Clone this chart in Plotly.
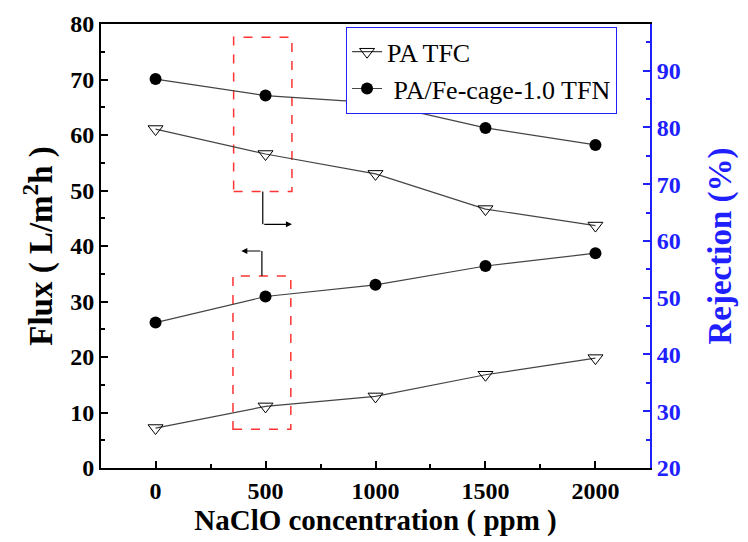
import plotly.graph_objects as go

conc = [0, 500, 1000, 1500, 2000]
flux_tfc = [7.2, 11.1, 12.9, 16.8, 19.8]
flux_tfn = [26.2, 30.9, 33.0, 36.4, 38.7]
rej_tfc = [79.7, 75.3, 71.8, 65.6, 62.7]
rej_tfn = [88.5, 85.6, 84.3, 79.9, 76.9]

x_ticks = [0, 500, 1000, 1500, 2000]
left_ticks = [0, 10, 20, 30, 40, 50, 60, 70, 80]
right_ticks = [20, 30, 40, 50, 60, 70, 80, 90]

# annotation boxes (data units, left axis)
upper_box = dict(x0=355, x1=620, y0=49.8, y1=77.6)
lower_box = dict(x0=352, x1=615, y0=7.0, y1=34.6)

BLUE = "#2020ff"
FONT = "Liberation Serif, Times New Roman, serif"
LINE = "#444444"

fig = go.Figure()

tri = dict(symbol="triangle-down-open", size=13, color="black", line=dict(color="black", width=1))
dot = dict(symbol="circle", size=12, color="black")

fig.add_trace(go.Scatter(x=conc, y=flux_tfc, mode="lines+markers", name="PA TFC",
                         line=dict(color=LINE, width=1.2), marker=tri, showlegend=False))
fig.add_trace(go.Scatter(x=conc, y=flux_tfn, mode="lines+markers", name="PA/Fe-cage-1.0 TFN",
                         line=dict(color=LINE, width=1.2), marker=dot, showlegend=False))
fig.add_trace(go.Scatter(x=conc, y=rej_tfc, mode="lines+markers", name="PA TFC",
                         line=dict(color=LINE, width=1.2), marker=tri, yaxis="y2"))
fig.add_trace(go.Scatter(x=conc, y=rej_tfn, mode="lines+markers", name=" PA/Fe-cage-1.0 TFN",
                         line=dict(color=LINE, width=1.2), marker=dot, yaxis="y2"))

tickfont = dict(family=FONT, size=24, color="black", weight="bold")

fig.update_layout(
    width=740, height=534,
    margin=dict(l=93, r=98, t=16, b=74, autoexpand=False),
    paper_bgcolor="white", plot_bgcolor="white",
    font=dict(family=FONT),
    xaxis=dict(range=[-248, 2248], tickvals=x_ticks, ticktext=[str(v) for v in x_ticks],
               ticks="inside", ticklen=7, tickwidth=1.5, tickcolor="black",
               minor=dict(ticks="inside", dtick=250, tick0=0, ticklen=4, tickcolor="black"),
               showline=True, linecolor="black", linewidth=2, mirror=True,
               showgrid=False, zeroline=False, automargin=False,
               tickfont=tickfont,
               title=dict(text="NaClO concentration ( ppm )",
                          font=dict(family=FONT, size=29, color="black", weight="bold"), standoff=0)),
    yaxis=dict(range=[0, 80], tickvals=left_ticks,
               ticks="inside", ticklen=7, tickwidth=1.5, tickcolor="black",
               minor=dict(ticks="inside", dtick=5, tick0=0, ticklen=4, tickcolor="black"),
               showline=True, linecolor="black", linewidth=2,
               showgrid=False, zeroline=False, automargin=False,
               tickfont=tickfont,
               title=dict(text="Flux ( L/m<sup>2</sup>h )",
                          font=dict(family=FONT, size=33, color="black", weight="bold"), standoff=8)),
    yaxis2=dict(range=[20, 98.2], tickvals=right_ticks, overlaying="y", side="right",
                ticks="inside", ticklen=7, tickwidth=1.5, tickcolor=BLUE,
                minor=dict(ticks="inside", dtick=5, tick0=0, ticklen=4, tickcolor=BLUE),
                showline=True, linecolor=BLUE, linewidth=2,
                showgrid=False, zeroline=False, automargin=False,
                tickfont=dict(family=FONT, size=24, color=BLUE, weight="bold"),
                title=dict(text="Rejection (%)", font=dict(family=FONT, size=33, color=BLUE, weight="bold"),
                           standoff=28)),
    legend=dict(x=0.446, y=0.993, xanchor="left", yanchor="top",
                bgcolor="white", bordercolor=BLUE, borderwidth=1.2,
                font=dict(family=FONT, size=26, color="black"),
                tracegroupgap=0, itemwidth=30),
)

for b in (upper_box, lower_box):
    fig.add_shape(type="rect", xref="x", yref="y", x0=b["x0"], x1=b["x1"], y0=b["y0"], y1=b["y1"],
                  line=dict(color="#ff3333", width=1.5, dash="dash"), layer="below")

# upper arrow (points right -> rejection axis)
ux = (upper_box["x0"] + upper_box["x1"]) / 2
fig.add_shape(type="line", xref="x", yref="y", x0=ux, x1=ux, y0=upper_box["y0"], y1=43.9,
              line=dict(color="black", width=1.2))
fig.add_annotation(x=upper_box["x1"], y=43.9, ax=ux, ay=43.9, xref="x", yref="y", axref="x", ayref="y",
                   showarrow=True, arrowhead=2, arrowsize=1, arrowwidth=1.2, arrowcolor="black", text="")
# lower arrow (points left -> flux axis)
lx = (lower_box["x0"] + lower_box["x1"]) / 2
fig.add_shape(type="line", xref="x", yref="y", x0=lx, x1=lx, y0=lower_box["y1"], y1=39.1,
              line=dict(color="black", width=1.2))
fig.add_annotation(x=390, y=39.1, ax=lx, ay=39.1, xref="x", yref="y", axref="x", ayref="y",
                   showarrow=True, arrowhead=2, arrowsize=1, arrowwidth=1.2, arrowcolor="black", text="")

fig.write_html("out.html")
